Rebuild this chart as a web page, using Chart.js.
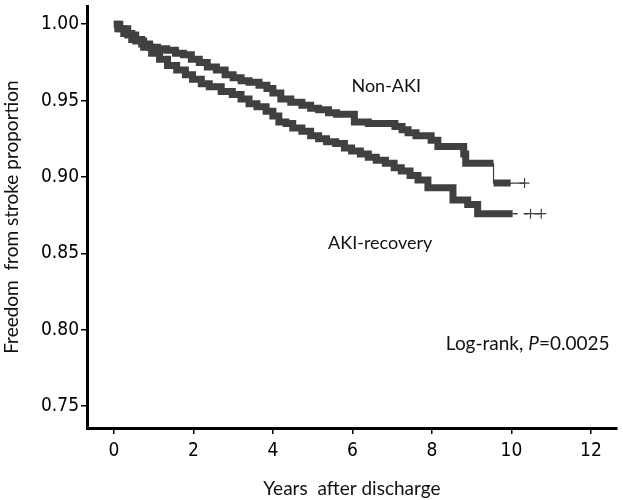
<!DOCTYPE html>
<html>
<head>
<meta charset="utf-8">
<script src="https://cdn.jsdelivr.net/npm/chart.js@4"></script>
<style>body{margin:0;background:#fff}</style>
</head>
<body>
<canvas id="kmChart" width="623" height="500"></canvas>
<script>
const yearTicks = [0, 2, 4, 6, 8, 10, 12];
const propTicks = [0.75, 0.80, 0.85, 0.90, 0.95, 1.00];

// Kaplan-Meier steps: value holds from that year onward
const nonAkiYears = [0, 0.1, 0.25, 0.45, 0.7, 0.9, 1.1, 1.33, 1.55, 1.75, 1.95, 2.15, 2.35, 2.58, 2.8, 3.0, 3.2, 3.4, 3.65, 3.85, 4.0, 4.2, 4.45, 4.73, 4.95, 5.15, 5.4, 5.6, 6.05, 6.4, 7.07, 7.25, 7.4, 7.6, 7.98, 8.15, 8.8, 8.85, 9.55];
const nonAkiSurv  = [1.000, 0.997, 0.994, 0.990, 0.987, 0.985, 0.984, 0.983, 0.981, 0.980, 0.977, 0.975, 0.972, 0.970, 0.967, 0.965, 0.963, 0.962, 0.960, 0.958, 0.955, 0.951, 0.949, 0.947, 0.945, 0.944, 0.942, 0.941, 0.936, 0.935, 0.933, 0.931, 0.929, 0.927, 0.924, 0.920, 0.915, 0.909, 0.909];

const akiYears = [0, 0.15, 0.35, 0.55, 0.75, 0.95, 1.15, 1.35, 1.58, 1.8, 1.98, 2.2, 2.4, 2.7, 2.98, 3.2, 3.4, 3.6, 3.83, 4.0, 4.15, 4.33, 4.5, 4.73, 4.95, 5.15, 5.35, 5.58, 5.8, 5.98, 6.2, 6.4, 6.6, 6.83, 7.05, 7.23, 7.45, 7.65, 7.9, 8.53, 8.9, 9.15, 10.03];
const akiSurv  = [1.000, 0.997, 0.993, 0.989, 0.985, 0.981, 0.977, 0.973, 0.970, 0.967, 0.964, 0.961, 0.959, 0.956, 0.954, 0.951, 0.948, 0.946, 0.943, 0.940, 0.936, 0.935, 0.932, 0.930, 0.927, 0.925, 0.923, 0.922, 0.919, 0.917, 0.915, 0.913, 0.911, 0.909, 0.906, 0.904, 0.901, 0.898, 0.893, 0.885, 0.882, 0.876, 0.876];

// last Non-AKI step (thin drop, then a short dense band)
const nonAkiLateYears = [9.55, 9.98];
const nonAkiLateSurv  = [0.896, 0.896];
const nonAkiTailYears = [9.55, 9.55, 10.33];
const nonAkiTailSurv  = [0.909, 0.896, 0.896];
const akiTailYears = [10.03, 10.75];
const akiTailSurv  = [0.876, 0.876];

const nonAkiCensorYears = [10.33];
const nonAkiCensorSurv  = [0.896];
const akiCensorYears = [10.48, 10.75];
const akiCensorSurv  = [0.876, 0.876];

const curveColor = '#404040';
const tickFont = "'Liberation Sans Narrow', 'DejaVu Sans Condensed', sans-serif";
const textFont = "Lato, 'Open Sans', sans-serif";

function toPoints(xs, ys) {
  return xs.map((x, i) => ({ x: x, y: ys[i] }));
}

// text written on the plot, placed in data units
const notes = [
  { text: 'Non-AKI', x: 6.85, y: 0.9596 },
  { text: 'AKI-recovery', x: 6.7, y: 0.857 }
];
const logRankNote = { x: 8.35, y: 0.791, parts: ['Log-rank, ', 'P', '=0.0025'] };

const notesPlugin = {
  id: 'notes',
  afterDatasetsDraw(chart) {
    const { ctx, scales } = chart;
    ctx.save();
    ctx.fillStyle = '#111';
    ctx.textBaseline = 'middle';
    ctx.font = '18px ' + textFont;
    ctx.textAlign = 'center';
    notes.forEach((n) => {
      ctx.fillText(n.text, scales.x.getPixelForValue(n.x), scales.y.getPixelForValue(n.y));
    });
    ctx.textAlign = 'left';
    let px = scales.x.getPixelForValue(logRankNote.x);
    const py = scales.y.getPixelForValue(logRankNote.y);
    logRankNote.parts.forEach((part, i) => {
      ctx.font = (i === 1 ? 'italic ' : '') + '19px ' + textFont;
      ctx.fillText(part, px, py);
      px += ctx.measureText(part).width;
    });
    ctx.restore();
  }
};

function band(label, xs, ys) {
  return {
    label: label,
    data: toPoints(xs, ys),
    showLine: true,
    stepped: 'before',
    borderColor: curveColor,
    borderWidth: 7,
    pointRadius: 0
  };
}

const kmChart = new Chart(document.getElementById('kmChart'), {
  type: 'scatter',
  data: {
    datasets: [
      band('Non-AKI', nonAkiYears, nonAkiSurv),
      band('AKI-recovery', akiYears, akiSurv),
      band('Non-AKI late', nonAkiLateYears, nonAkiLateSurv),
      {
        label: 'Non-AKI tail',
        data: toPoints(nonAkiTailYears, nonAkiTailSurv),
        showLine: true,
        borderColor: curveColor,
        borderWidth: 1.2,
        pointRadius: 0
      },
      {
        label: 'AKI-recovery tail',
        data: toPoints(akiTailYears, akiTailSurv),
        showLine: true,
        borderColor: curveColor,
        borderWidth: 1.5,
        borderDash: [5, 6],
        pointRadius: 0
      },
      {
        label: 'Non-AKI censored',
        data: toPoints(nonAkiCensorYears, nonAkiCensorSurv),
        pointStyle: 'cross',
        pointRadius: 5,
        borderColor: curveColor,
        borderWidth: 1.2
      },
      {
        label: 'AKI-recovery censored',
        data: toPoints(akiCensorYears, akiCensorSurv),
        pointStyle: 'cross',
        pointRadius: 5,
        borderColor: curveColor,
        borderWidth: 1.2
      }
    ]
  },
  options: {
    responsive: false,
    animation: false,
    layout: { padding: { top: 4, right: 3, left: 0, bottom: 0 } },
    plugins: {
      legend: { display: false },
      tooltip: { enabled: false }
    },
    scales: {
      x: {
        type: 'linear',
        min: -0.675,
        max: 12.65,
        afterBuildTicks: (scale) => {
          scale.ticks = yearTicks.map((v) => ({ value: v }));
        },
        afterFit: (scale) => {
          scale.height = 72;
          scale.paddingLeft = 0;
          scale.paddingRight = 0;
        },
        border: { color: '#000', width: 3 },
        grid: { drawOnChartArea: false, drawTicks: true, tickLength: 6, color: '#000', lineWidth: 1.5 },
        ticks: {
          color: '#000',
          padding: 6,
          font: { family: tickFont, size: 19 },
          callback: (v) => String(v)
        },
        title: {
          display: true,
          text: 'Years  after discharge',
          color: '#111',
          padding: 0,
          font: { family: textFont, size: 19 }
        }
      },
      y: {
        type: 'linear',
        min: 0.7357,
        max: 1.0118,
        afterBuildTicks: (scale) => {
          scale.ticks = propTicks.map((v) => ({ value: v }));
        },
        afterFit: (scale) => {
          scale.width = 87;
          scale.paddingTop = 0;
          scale.paddingBottom = 0;
        },
        border: { color: '#000', width: 3 },
        grid: { drawOnChartArea: false, drawTicks: true, tickLength: 6, color: '#000', lineWidth: 1.5 },
        ticks: {
          color: '#000',
          padding: 2,
          font: { family: tickFont, size: 19 },
          callback: (v) => v.toFixed(2)
        },
        title: {
          display: true,
          text: 'Freedom  from stroke proportion',
          color: '#111',
          padding: 0,
          font: { family: textFont, size: 19 }
        }
      }
    }
  },
  plugins: [notesPlugin]
});
</script>
</body>
</html>
